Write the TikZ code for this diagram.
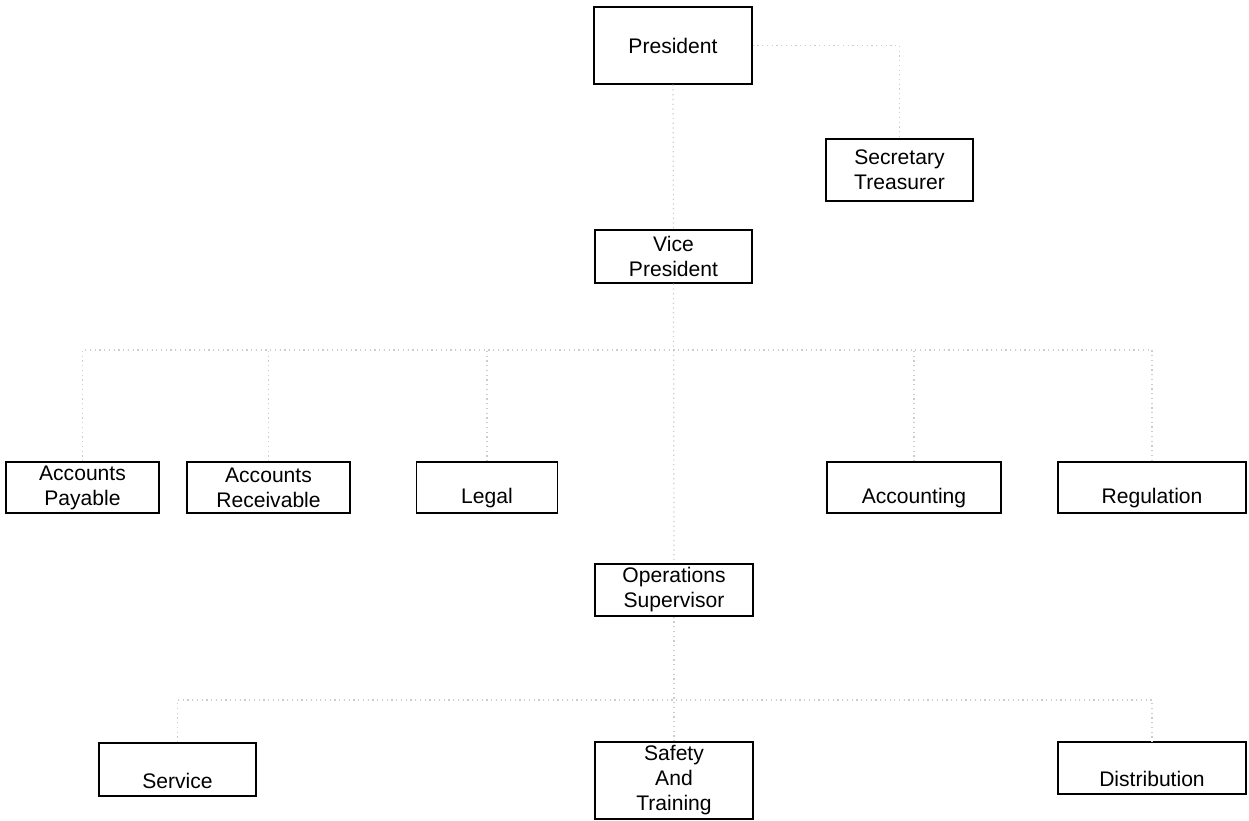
\documentclass[tikz,border=0pt]{standalone}
\usepackage{fontspec}
\setmainfont{Liberation Sans}
\begin{document}
\begin{tikzpicture}[>=stealth,x=0.02cm,y=-0.02cm,
		post/.style={draw,line width=0.85pt,rectangle,align=center,inner sep=0pt,font=\fontsize{12}{14.2}\selectfont},
		link/.style={gray!40,dotted,line width=0.7pt}]
		\useasboundingbox (0,0) rectangle (1249,821);
		% top
		\node[post,minimum width=158*0.02cm,minimum height=77*0.02cm] (pres) at (673,45.5) {President};
		\node[post,minimum width=147*0.02cm,minimum height=62*0.02cm] (sec) at (899.5,170) {Secretary\\Treasurer};
		\node[post,minimum width=157*0.02cm,minimum height=53*0.02cm] (vp) at (673.5,256.5) {Vice\\President};
		% staff row
		\node[post,minimum width=153*0.02cm,minimum height=51*0.02cm] (ap) at (82.5,487.5) {Accounts\\Payable};
		\node[post,minimum width=163*0.02cm,minimum height=51*0.02cm] (ar) at (268.5,487.5) {Accounts\\Receivable};
		\node[post,minimum width=141*0.02cm,minimum height=51*0.02cm] (legal) at (487,487.5) {\mbox{}\\[7pt]Legal};
		\node[post,minimum width=174*0.02cm,minimum height=51*0.02cm] (acc) at (914,487.5) {\mbox{}\\[7pt]Accounting};
		\node[post,minimum width=188*0.02cm,minimum height=51*0.02cm] (reg) at (1152,487.5) {\mbox{}\\[7pt]Regulation};
		% operations
		\node[post,minimum width=158*0.02cm,minimum height=52*0.02cm] (ops) at (674,590) {Operations\\Supervisor};
		\node[post,minimum width=157*0.02cm,minimum height=53*0.02cm] (serv) at (177.5,769.5) {\mbox{}\\[7pt]Service};
		\node[post,minimum width=158*0.02cm,minimum height=77*0.02cm] (safe) at (674,780.5) {Safety\\And\\Training};
		\node[post,minimum width=188*0.02cm,minimum height=52*0.02cm] (dist) at (1152,768) {\mbox{}\\[7pt]Distribution};
		% connectors
		\coordinate (busA) at (673,350);
		\coordinate (busB) at (673,700);
		\draw[link] (pres.south) -- (vp.north);
		\draw[link] (pres.east) -| (sec.north);
		\draw[link] (vp.south) -- (ops.north);
		\draw[link] (ap.north) |- (busA) -| (reg.north);
		\draw[link] (ar.north) -- (ar.north |- busA);
		\draw[link] (legal.north) -- (legal.north |- busA);
		\draw[link] (acc.north) -- (acc.north |- busA);
		\draw[link] (ops.south) -- (safe.north);
		\draw[link] (serv.north) |- (busB) -| (dist.north);
\end{tikzpicture}
\end{document}
